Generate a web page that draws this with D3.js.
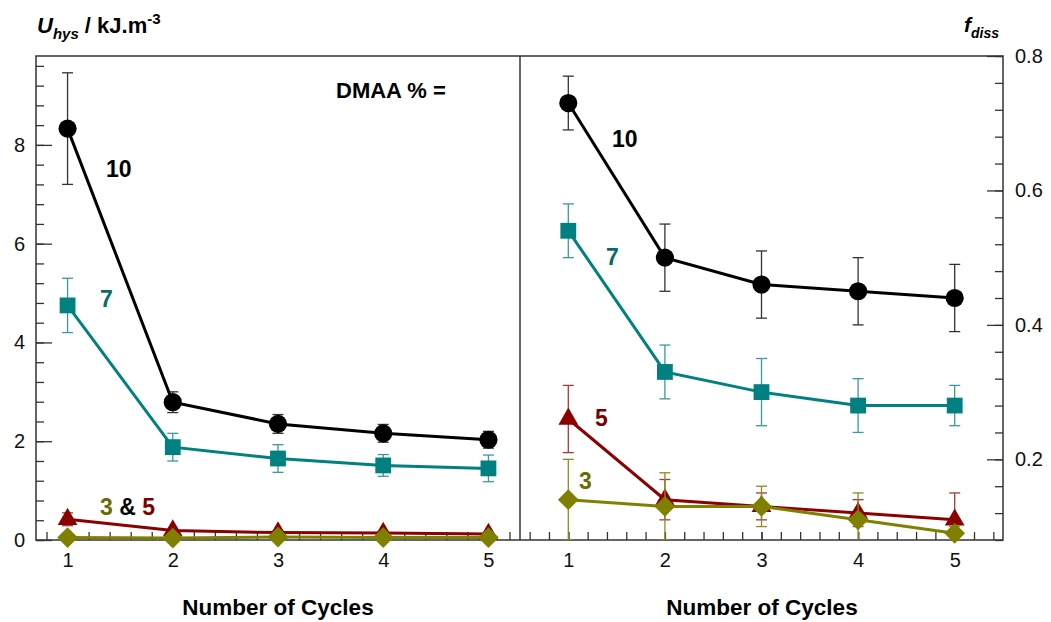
<!DOCTYPE html>
<html>
<head>
<meta charset="utf-8">
<script src="https://cdn.jsdelivr.net/npm/d3@7"></script>
<style>
  body { margin: 0; background: #fff; }
  svg { font-family: "Liberation Sans", Arial, sans-serif; }
  .tick text { font-size: 20px; fill: #111; }
  .tick line { stroke: #333; stroke-width: 1.3; }
</style>
</head>
<body>
<svg id="chart" width="1051" height="622"></svg>
<script>
// ---- data ----
const cycles = [1, 2, 3, 4, 5];

// left panel: hysteresis energy U_hys (kJ/m3)
const uhys10 = [8.33, 2.79, 2.35, 2.16, 2.03];
const uhys10Err = [1.13, 0.21, 0.19, 0.18, 0.17];
const uhys7 = [4.75, 1.88, 1.65, 1.51, 1.45];
const uhys7Err = [0.55, 0.28, 0.28, 0.22, 0.27];
const uhys5 = [0.42, 0.19, 0.15, 0.14, 0.12];
const uhys5Err = [0.13, 0.03, 0.03, 0.03, 0.03];
const uhys3 = [0.05, 0.04, 0.06, 0.05, 0.05];
const uhys3Err = [0.02, 0.02, 0.02, 0.02, 0.02];

// right panel: dissipation factor f_diss
const fdiss10 = [0.73, 0.50, 0.46, 0.45, 0.44];
const fdiss10Err = [0.04, 0.05, 0.05, 0.05, 0.05];
const fdiss7 = [0.54, 0.33, 0.30, 0.28, 0.28];
const fdiss7Err = [0.04, 0.04, 0.05, 0.04, 0.03];
const fdiss5 = [0.26, 0.14, 0.13, 0.12, 0.11];
const fdiss5Err = [0.05, 0.03, 0.02, 0.02, 0.04];
const fdiss3 = [0.14, 0.13, 0.13, 0.11, 0.09];
const fdiss3Err = [0.06, 0.05, 0.03, 0.04, 0.01];

const leftTicks = [0, 2, 4, 6, 8];
const rightTicks = [0.2, 0.4, 0.6, 0.8];

// ---- layout ----
const plotTop = 56, plotBottom = 540;
const svg = d3.select("#chart");

const xL = d3.scaleLinear().domain([0.7, 5.3]).range([36, 520]);
const yL = d3.scaleLinear().domain([0, 9.8]).range([plotBottom, plotTop]);
const xR = d3.scaleLinear().domain([0.5, 5.5]).range([520, 1003]);
const yR = d3.scaleLinear().domain([0.08, 0.8]).range([plotBottom, plotTop]);

const styles = {
  s10: { color: "#000000", err: "#333333", symbol: d3.symbolCircle, size: 260, rot: 0 },
  s7:  { color: "#008080", err: "#3a9a9a", symbol: d3.symbolSquare, size: 250, rot: 0 },
  s5:  { color: "#8b0000", err: "#a33a3a", symbol: d3.symbolTriangle, size: 170, rot: 0 },
  s3:  { color: "#808000", err: "#8c8c20", symbol: d3.symbolSquare, size: 215, rot: 45 }
};

function makeRows(vals, errs) {
  return cycles.map((c, i) => ({ x: c, y: vals[i], e: errs[i] }));
}

const leftSeries = [
  { rows: makeRows(uhys10, uhys10Err), st: styles.s10 },
  { rows: makeRows(uhys7, uhys7Err), st: styles.s7 },
  { rows: makeRows(uhys5, uhys5Err), st: styles.s5 },
  { rows: makeRows(uhys3, uhys3Err), st: styles.s3 }
];
const rightSeries = [
  { rows: makeRows(fdiss10, fdiss10Err), st: styles.s10 },
  { rows: makeRows(fdiss7, fdiss7Err), st: styles.s7 },
  { rows: makeRows(fdiss5, fdiss5Err), st: styles.s5 },
  { rows: makeRows(fdiss3, fdiss3Err), st: styles.s3 }
];

// clip paths for each panel (error bars + lines only, markers stay whole)
const defs = svg.append("defs");
defs.append("clipPath").attr("id", "clipL").append("rect")
  .attr("x", 36).attr("y", plotTop).attr("width", 484).attr("height", plotBottom - plotTop);
defs.append("clipPath").attr("id", "clipR").append("rect")
  .attr("x", 520).attr("y", plotTop).attr("width", 483).attr("height", plotBottom - plotTop);

function drawPanel(series, x, y, clipId) {
  const g = svg.append("g");
  series.forEach(s => {
    const st = s.st;
    const gc = g.append("g").attr("clip-path", `url(#${clipId})`);
    // error bars
    const eb = gc.append("g").attr("stroke", st.err).attr("stroke-width", 1.3).attr("fill", "none");
    s.rows.forEach(d => {
      const cx = x(d.x), y1 = y(d.y + d.e), y2 = y(d.y - d.e);
      eb.append("line").attr("x1", cx).attr("x2", cx).attr("y1", y1).attr("y2", y2);
      eb.append("line").attr("x1", cx - 5.5).attr("x2", cx + 5.5).attr("y1", y1).attr("y2", y1);
      eb.append("line").attr("x1", cx - 5.5).attr("x2", cx + 5.5).attr("y1", y2).attr("y2", y2);
    });
    // line
    gc.append("path")
      .datum(s.rows)
      .attr("fill", "none")
      .attr("stroke", st.color)
      .attr("stroke-width", 3)
      .attr("d", d3.line().x(d => x(d.x)).y(d => y(d.y)));
    // markers
    g.append("g").selectAll("path")
      .data(s.rows)
      .join("path")
      .attr("d", d3.symbol(st.symbol, st.size))
      .attr("fill", st.color)
      .attr("transform", d => `translate(${x(d.x)},${y(d.y)}) rotate(${st.rot})`);
  });
}

// ---- axes ----
function minorTicks(a, b, step) {
  const out = [];
  for (let v = a; v <= b + 1e-9; v += step) out.push(+v.toFixed(4));
  return out;
}

// left y axis: major + minor ticks pointing inward
svg.append("g").attr("transform", "translate(36,0)")
  .call(d3.axisLeft(yL).tickValues(minorTicks(0, 9.6, 0.4)).tickSize(-8).tickSizeOuter(0).tickFormat(""))
  .call(g => g.select(".domain").remove());
svg.append("g").attr("transform", "translate(36,0)")
  .call(d3.axisLeft(yL).tickValues(leftTicks).tickSize(-16).tickSizeOuter(0).tickPadding(11).tickFormat(d3.format("d")))
  .call(g => g.select(".domain").remove());

// right y axis
svg.append("g").attr("transform", "translate(1003,0)")
  .call(d3.axisRight(yR).tickValues(minorTicks(0.08, 0.8, 0.04)).tickSize(-8).tickSizeOuter(0).tickFormat(""))
  .call(g => g.select(".domain").remove());
svg.append("g").attr("transform", "translate(1003,0)")
  .call(d3.axisRight(yR).tickValues(rightTicks).tickSize(-16).tickSizeOuter(0).tickPadding(12).tickFormat(d3.format(".1f")))
  .call(g => g.select(".domain").remove());

// bottom axes
svg.append("g").attr("transform", `translate(0,${plotBottom})`)
  .call(d3.axisBottom(xL).tickValues(minorTicks(0.8, 5.2, 0.2)).tickSize(-8).tickSizeOuter(0).tickFormat(""))
  .call(g => g.select(".domain").remove());
svg.append("g").attr("transform", `translate(0,${plotBottom})`)
  .call(d3.axisBottom(xL).tickValues(cycles).tickSize(-8).tickSizeOuter(0).tickPadding(13).tickFormat(d3.format("d")))
  .call(g => g.select(".domain").remove());
svg.append("g").attr("transform", `translate(0,${plotBottom})`)
  .call(d3.axisBottom(xR).tickValues(minorTicks(0.6, 5.4, 0.2)).tickSize(-8).tickSizeOuter(0).tickFormat(""))
  .call(g => g.select(".domain").remove());
svg.append("g").attr("transform", `translate(0,${plotBottom})`)
  .call(d3.axisBottom(xR).tickValues(cycles).tickSize(-8).tickSizeOuter(0).tickPadding(13).tickFormat(d3.format("d")))
  .call(g => g.select(".domain").remove());

// frames
const frame = svg.append("g").attr("fill", "none").attr("stroke", "#333").attr("stroke-width", 1.5);
frame.append("rect").attr("x", 36).attr("y", plotTop).attr("width", 1003 - 36).attr("height", plotBottom - plotTop);
frame.append("line").attr("x1", 520).attr("x2", 520).attr("y1", plotTop).attr("y2", plotBottom);

drawPanel(leftSeries, xL, yL, "clipL");
drawPanel(rightSeries, xR, yR, "clipR");

// ---- titles ----
const ytl = svg.append("text").attr("x", 37).attr("y", 33)
  .attr("font-size", 22).attr("font-weight", "bold").attr("fill", "#000");
ytl.append("tspan").attr("font-style", "italic").text("U");
ytl.append("tspan").attr("font-style", "italic").attr("font-size", 15).attr("dy", 6).text("hys");
ytl.append("tspan").attr("dy", -6).text(" / kJ.m");
ytl.append("tspan").attr("font-size", 15).attr("dy", -9).text("-3");

const ytr = svg.append("text").attr("x", 964).attr("y", 32)
  .attr("font-size", 21).attr("font-weight", "bold").attr("font-style", "italic").attr("fill", "#000");
ytr.append("tspan").text("f");
ytr.append("tspan").attr("font-size", 14).attr("dy", 6).text("diss");

svg.append("text").attr("x", 278).attr("y", 615).attr("text-anchor", "middle")
  .attr("font-size", 22.5).attr("font-weight", "bold").text("Number of Cycles");
svg.append("text").attr("x", 762).attr("y", 615).attr("text-anchor", "middle")
  .attr("font-size", 22.5).attr("font-weight", "bold").text("Number of Cycles");

svg.append("text").attr("x", 336).attr("y", 98)
  .attr("font-size", 22).attr("font-weight", "bold").text("DMAA % =");

// ---- series labels ----
const lab = svg.append("g").attr("font-size", 23).attr("font-weight", "bold");
lab.append("text").attr("x", 106).attr("y", 177).attr("fill", "#000").text("10");
lab.append("text").attr("x", 100).attr("y", 307).attr("fill", "#0a6a6a").text("7");
const l35 = lab.append("text").attr("x", 100).attr("y", 515);
l35.append("tspan").attr("fill", "#6b6b00").text("3");
l35.append("tspan").attr("fill", "#000").text(" & ");
l35.append("tspan").attr("fill", "#7a0000").text("5");
lab.append("text").attr("x", 612).attr("y", 147).attr("fill", "#000").text("10");
lab.append("text").attr("x", 606).attr("y", 265).attr("fill", "#0a6a6a").text("7");
lab.append("text").attr("x", 595).attr("y", 426).attr("fill", "#7a0000").text("5");
lab.append("text").attr("x", 579).attr("y", 489).attr("fill", "#6b6b00").text("3");
</script>
</body>
</html>
